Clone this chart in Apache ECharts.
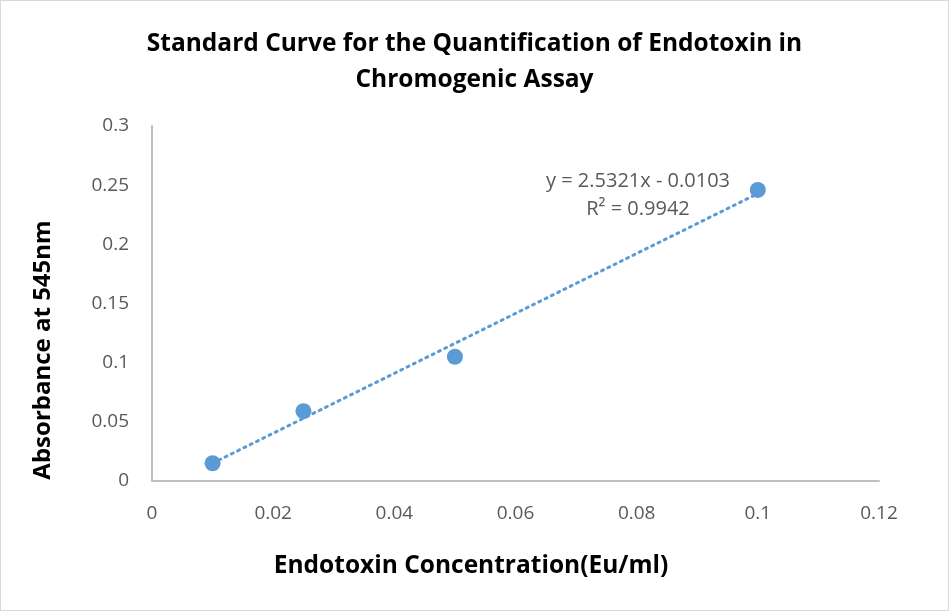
<!DOCTYPE html>
<html><head><meta charset="utf-8">
<script src="https://cdn.jsdelivr.net/npm/echarts@6/dist/echarts.min.js"></script>
<style>html,body{margin:0;padding:0;background:#fff}#c{width:949px;height:611px;box-sizing:border-box;border:1px solid #d9d9d9}</style>
</head><body><div id="c"></div>
<script>
const concentrations = [0.01, 0.025, 0.05, 0.1];
const absorbances = [0.015, 0.059, 0.105, 0.246];
const trendSlope = 2.5321;
const trendIntercept = -0.0103;
const trendRange = [0.01, 0.1];
const xTicks = [0, 0.02, 0.04, 0.06, 0.08, 0.1, 0.12];
const yTicks = [0, 0.05, 0.1, 0.15, 0.2, 0.25, 0.3];
const equationText = ['y = 2.5321x - 0.0103', 'R² = 0.9942'];

const chart = echarts.init(document.getElementById('c'), null, {renderer: 'canvas'});
const font = '"Open Sans", sans-serif';
const trendData = trendRange.map(x => [x, trendSlope * x + trendIntercept]);
chart.setOption({
  animation: false,
  title: {
    text: 'Standard Curve for the Quantification of Endotoxin in\nChromogenic Assay',
    left: 'center', top: 20,
    textStyle: {fontFamily: font, fontWeight: 'bold', fontSize: 24.5, color: '#000', lineHeight: 36}
  },
  grid: {left: 151, right: 69, top: 125, bottom: 129},
  xAxis: {
    type: 'value', min: xTicks[0], max: xTicks[xTicks.length-1], interval: 0.02,
    axisLine: {lineStyle: {color: '#bfbfbf', width: 2}},
    axisTick: {show: false}, splitLine: {show: false},
    axisLabel: {fontFamily: font, fontSize: 19, color: '#595959', margin: 23}
  },
  yAxis: {
    type: 'value', min: yTicks[0], max: yTicks[yTicks.length-1], interval: 0.05,
    axisLine: {show: true, lineStyle: {color: '#bfbfbf', width: 2}},
    axisTick: {show: false}, splitLine: {show: false},
    axisLabel: {fontFamily: font, fontSize: 19, color: '#595959', margin: 23}
  },
  series: [
    {type: 'line', data: trendData, symbol: 'none', silent: true,
     lineStyle: {color: '#5B9BD5', width: 3, type: [2, 5], cap: 'round'}, z: 1},
    {type: 'scatter', data: concentrations.map((x, i) => [x, absorbances[i]]),
     symbolSize: 16, itemStyle: {color: '#5B9BD5', opacity: 1}, z: 2}
  ],
  graphic: [
    {type: 'text', x: 470, y: 565,
     style: {text: 'Endotoxin Concentration(Eu/ml)', font: 'bold 24.5px ' + font, fill: '#000', align: 'center', verticalAlign: 'middle'}},
    {type: 'text', x: 42, y: 349, rotation: Math.PI / 2,
     style: {text: 'Absorbance at 545nm', font: 'bold 24px ' + font, fill: '#000', align: 'center', verticalAlign: 'middle'}},
    {type: 'text', x: 637, y: 180,
     style: {text: equationText[0], font: '20px ' + font, fill: '#595959', align: 'center', verticalAlign: 'middle'}},
    {type: 'text', x: 637, y: 208,
     style: {text: equationText[1], font: '20px ' + font, fill: '#595959', align: 'center', verticalAlign: 'middle'}}
  ]
});
</script></body></html>
